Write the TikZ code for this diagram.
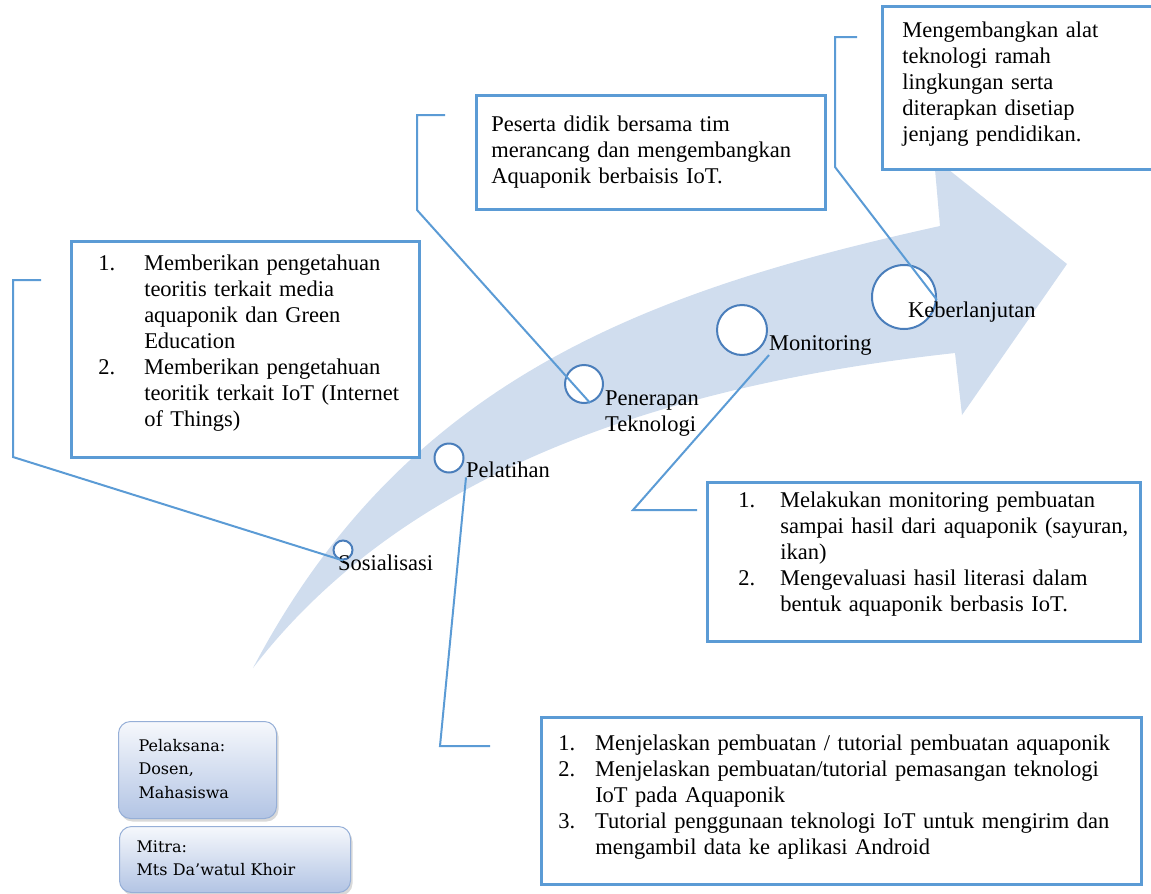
\documentclass[tikz,border=0pt]{standalone}
\usepackage{fontspec}
\setmainfont{Liberation Serif}
\newfontfamily\rolefont{DejaVu Serif}
\usetikzlibrary{shadows}
\begin{document}
\begin{tikzpicture}[x = 1pt, y = -1pt,
  font = \fontsize{22.5}{26}\selectfont,
  stage/.style = {circle, draw = circblue, fill = white, line width = 2pt, inner sep = 0pt},
  stagelabel/.style = {anchor = base west, inner sep = 0pt},
  infobox/.style = {draw = lineblue, fill = white, line width = 2.5pt, anchor = north west, inner xsep = 0pt, inner ysep = 0pt},
  callout/.style = {draw = lineblue, line width = 2pt},
  rolebox/.style = {rounded corners = 12pt, draw = roleborder, top color = roletop, bottom color = rolebottom, line width = 1pt, anchor = north west, inner xsep = 0pt, inner ysep = 0pt, drop shadow = {opacity = 0.3, shadow xshift = 2pt, shadow yshift = -3pt}, font = \rolefont\fontsize{16}{23.5}\selectfont}]
\definecolor{arrowfill}{RGB}{208,221,238}
\definecolor{lineblue}{RGB}{91,155,213}
\definecolor{circblue}{RGB}{74,126,187}
\definecolor{roletop}{RGB}{246,248,252}
\definecolor{rolebottom}{RGB}{178,196,228}
\definecolor{roleborder}{RGB}{150,175,215}
\useasboundingbox (0,0) rectangle (1151,894);
\fill[arrowfill] (253,668) .. controls (403,383) and (640,292) .. (940,226) -- (934,158) -- (1067,264) -- (962,415) -- (955,353) .. controls (705,380.5) and (418,453.5) .. (253,668) -- cycle;
\foreach \nm/\x/\y/\d in {soc/343/550/19, pel/449/458/29, pen/584/384/38, mon/742/330/50, keb/904/297/64}
  \node[stage, minimum size = \d pt] (\nm) at (\x,\y) {};
\node[stagelabel] (soclbl) at (338,570) {Sosialisasi};
\node[stagelabel] (pellbl) at (466,477) {Pelatihan};
\node[stagelabel] (penlbl) at (605,405) {\begin{tabular}[t]{@{}l@{}}Penerapan\\Teknologi\end{tabular}};
\node[stagelabel] (monlbl) at (769,350) {Monitoring};
\node[stagelabel] (keblbl) at (908,317) {Keberlanjutan};
\node[infobox, minimum width = 348pt, minimum height = 216pt, text width = 348pt] (know) at (70,240) {\hspace*{27pt}\begin{tabular}{@{}p{46pt}@{}l@{}}
1. & Memberikan pengetahuan\\
 & teoritis terkait media\\
 & aquaponik dan Green\\
 & Education\\
2. & Memberikan pengetahuan\\
 & teoritik terkait IoT (Internet\\
 & of Things)\\[12pt]
\end{tabular}};
\node[infobox, minimum width = 349pt, minimum height = 114pt, text width = 349pt] (design) at (475,94) {\hspace*{15pt}\begin{tabular}{@{}l@{}}
Peserta didik bersama tim\\
merancang dan mengembangkan\\
Aquaponik berbaisis IoT.
\end{tabular}};
\node[infobox, minimum width = 274pt, minimum height = 163pt, text width = 274pt] (green) at (881,5) {\hspace*{20pt}\begin{tabular}{@{}l@{}}
Mengembangkan alat\\
teknologi ramah\\
lingkungan serta\\
diterapkan disetiap\\
jenjang pendidikan.\\[6pt]
\end{tabular}};
\node[infobox, minimum width = 433pt, minimum height = 159pt, text width = 433pt] (eval) at (706,481) {\hspace*{31pt}\begin{tabular}{@{}p{42pt}@{}l@{}}
1. & Melakukan monitoring pembuatan\\
 & sampai hasil dari aquaponik (sayuran,\\
 & ikan)\\
2. & Mengevaluasi hasil literasi dalam\\
 & bentuk aquaponik berbasis IoT.\\[14pt]
\end{tabular}};
\node[infobox, minimum width = 600pt, minimum height = 167pt, text width = 600pt] (tutor) at (540,716) {\hspace*{17pt}\begin{tabular}{@{}p{37pt}@{}l@{}}
1. & Menjelaskan pembuatan / tutorial pembuatan aquaponik\\
2. & Menjelaskan pembuatan/tutorial pemasangan teknologi\\
 & IoT pada Aquaponik\\
3. & Tutorial penggunaan teknologi IoT untuk mengirim dan\\
 & mengambil data ke aplikasi Android\\[6pt]
\end{tabular}};
\node[rolebox, minimum width = 158pt, minimum height = 97pt, text width = 158pt] (staff) at (118,721) {\hspace*{20pt}\begin{tabular}{@{}l@{}}
Pelaksana:\\
Dosen,\\
Mahasiswa
\end{tabular}};
\node[rolebox, minimum width = 231pt, minimum height = 66pt, text width = 231pt] (partner) at (119,826) {\hspace*{17pt}\begin{tabular}{@{}l@{}}
Mitra:\\
Mts Da’watul Khoir
\end{tabular}};
\coordinate (knowend) at (41,280);
\coordinate (designend) at (445,115);
\coordinate (greenend) at (857,37);
\coordinate (evalend) at (697,510);
\coordinate (tutorend) at (490,746);
\draw[callout] (knowend) -- ++(-28,0) -- ++(0,177) -- (soc.south);
\draw[callout] (designend) -- ++(-28,0) -- ++(0,95) -- (pen.-72);
\draw[callout] (greenend) -- ++(-22,0) -- ++(0,130) -- (keb.-5);
\draw[callout] (evalend) -- ++(-64,0) -- (monlbl.south west);
\draw[callout] (tutorend) -- ++(-50,0) -- (pellbl.south west);
\end{tikzpicture}
\end{document}
